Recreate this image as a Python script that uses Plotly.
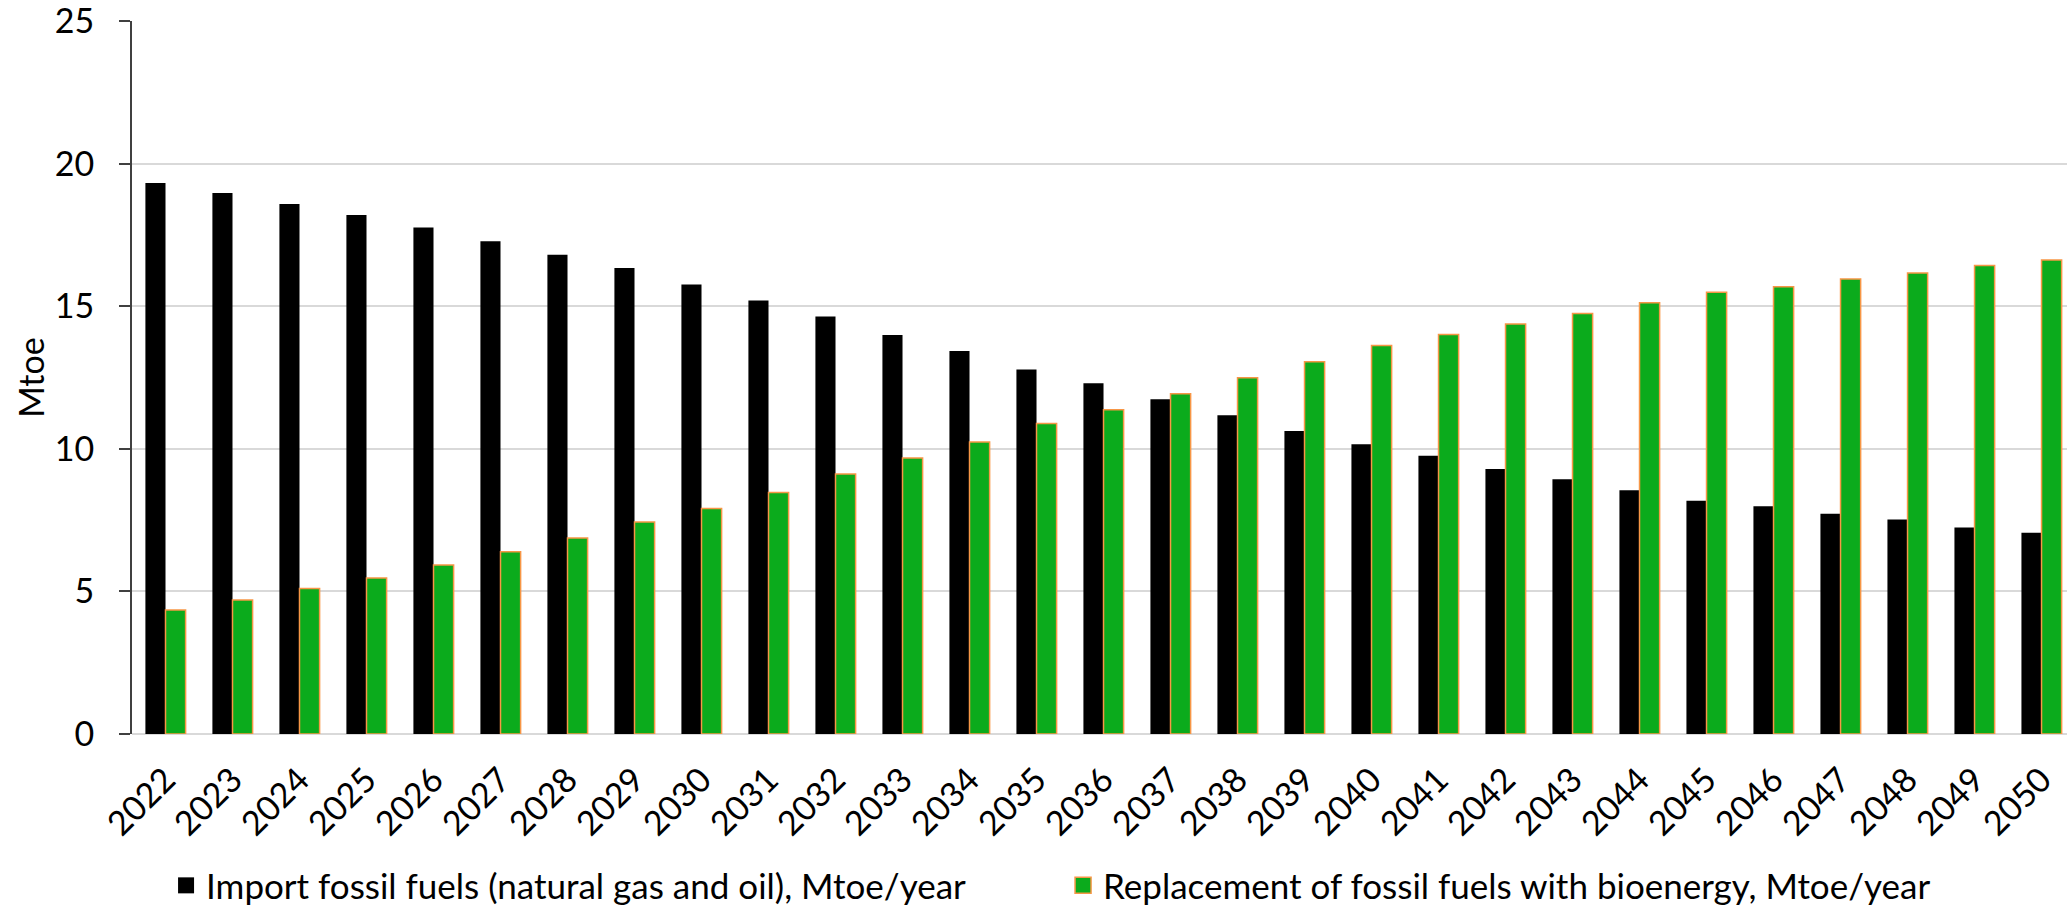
import plotly.graph_objects as go

# Years on the category axis
years = [str(y) for y in range(2022, 2051)]

# Imported fossil fuels (natural gas and oil), Mtoe per year
import_fossil = [19.32, 18.97, 18.58, 18.20, 17.76, 17.28, 16.80, 16.34, 15.76, 15.20,
                 14.64, 13.99, 13.43, 12.78, 12.30, 11.74, 11.18, 10.62, 10.16, 9.76,
                 9.29, 8.93, 8.55, 8.18, 7.99, 7.72, 7.52, 7.24, 7.06]

# Fossil fuels replaced by bioenergy, Mtoe per year
bio_replacement = [4.35, 4.70, 5.10, 5.47, 5.93, 6.39, 6.87, 7.43, 7.91, 8.47,
                   9.12, 9.68, 10.24, 10.89, 11.37, 11.93, 12.49, 13.05, 13.62, 14.01,
                   14.38, 14.74, 15.12, 15.49, 15.68, 15.95, 16.16, 16.43, 16.62]

y_ticks = [0, 5, 10, 15, 20, 25]

names = ["Import fossil fuels (natural gas and oil), Mtoe/year",
         "Replacement of fossil fuels with bioenergy, Mtoe/year"]

FONT = "Lato"
FS = 34
TEXT = "#000000"
BLACK = "#000000"
GREEN = "#0BAB1C"
ORANGE = "#F79646"

fig = go.Figure()
fig.add_trace(go.Bar(
    x=years, y=import_fossil, name=names[0], showlegend=False,
    marker=dict(color=BLACK, line=dict(width=0)),
))
fig.add_trace(go.Bar(
    x=years, y=bio_replacement, name=names[1], showlegend=False,
    marker=dict(color=GREEN, line=dict(color=ORANGE, width=1.5)),
))

# Legend keys: larger square swatches than the default bar glyph
fig.add_trace(go.Scatter(
    x=[None], y=[None], mode="markers", name=names[0],
    marker=dict(symbol="square", size=21, color=BLACK, line=dict(width=0)),
))
fig.add_trace(go.Scatter(
    x=[None], y=[None], mode="markers", name=names[1],
    marker=dict(symbol="square", size=21, color=GREEN, line=dict(color=ORANGE, width=1.5)),
))

fig.update_layout(
    width=2067, height=909,
    margin=dict(l=132, r=0, t=21, b=175, autoexpand=False),
    paper_bgcolor="white", plot_bgcolor="white",
    barmode="group", bargap=0.4, bargroupgap=0,
    font=dict(family=FONT, size=FS, color=TEXT),
    showlegend=True,
    legend=dict(
        orientation="h", x=0.0176, xanchor="left",
        yref="paper", y=-0.254, yanchor="bottom",
        font=dict(family=FONT, size=35, color=TEXT),
        entrywidth=852, entrywidthmode="pixels",
        itemsizing="trace", traceorder="normal",
        bgcolor="rgba(0,0,0,0)",
    ),
    xaxis=dict(
        type="category", range=[-0.5, 28.38], automargin=False,
        tickangle=-45, showgrid=False, showline=False, ticks="",
        tickfont=dict(family=FONT, size=FS, color=TEXT),
        ticklabelstandoff=18, ticklabeloverflow="allow",
    ),
    yaxis=dict(
        range=[0, 25], tickvals=y_ticks, automargin=False,
        showgrid=True, gridcolor="#D9D9D9", gridwidth=2,
        zeroline=True, zerolinecolor="#D9D9D9", zerolinewidth=2,
        showline=True, linecolor="#404040", linewidth=2,
        ticks="outside", ticklen=11, tickcolor="#404040", tickwidth=2,
        tickfont=dict(family=FONT, size=FS, color=TEXT),
        ticklabelstandoff=18, ticklabeloverflow="allow",
        title=dict(text="Mtoe", font=dict(family=FONT, size=FS, color=TEXT), standoff=0),
    ),
)

fig.write_html("out.html")
